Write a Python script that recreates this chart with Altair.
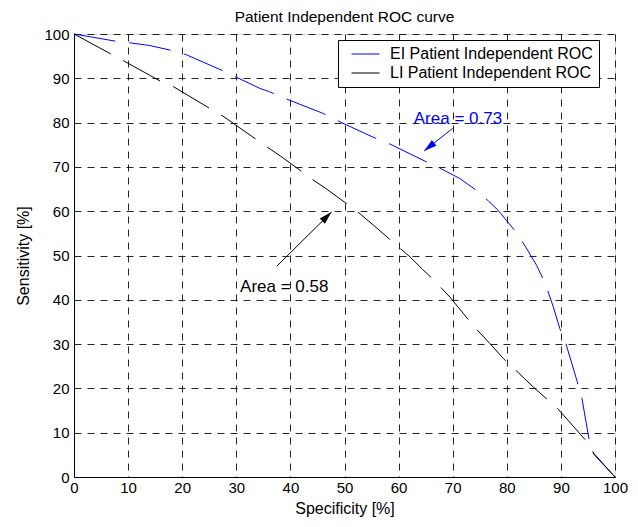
import math
import altair as alt
import pandas as pd

FONT = "Liberation Sans"

# ---- data ----
ticks = list(range(0, 101, 10))

series = ["EI Patient Independent ROC", "LI Patient Independent ROC"]
colors = ["#0000ff", "#000000"]

ei_spec = [0, 7.6, 10.4, 14.0, 18.4, 20.8, 27.9, 29.4, 34.4, 36.1, 38.7, 46.0, 48.4,
           55.3, 58.0, 65.2, 67.8, 71.3, 74.5, 76.6, 78.4, 81.9, 83.5, 85.5, 87.1,
           88.6, 89.8, 90.9, 93.0, 93.9, 95.2, 96.1, 100]
ei_sens = [100, 98.4, 98.0, 97.4, 96.2, 95.3, 91.5, 90.6, 87.7, 87.0, 85.6, 82.1, 80.6,
           76.7, 75.4, 71.1, 69.6, 67.4, 64.6, 62.3, 60.2, 55.0, 51.9, 47.8, 43.7,
           38.4, 33.5, 30.2, 21.6, 17.7, 8.5, 5.1, 0]

li_spec = [0, 6.8, 9.1, 15.9, 18.4, 25.1, 27.5, 35.8, 38.1, 44.4, 46.7, 52.5, 55.3,
           60.3, 62.1, 64.4, 66.4, 69.5, 71.9, 73.9, 76.9, 79.4, 81.5, 84.9, 87.5,
           89.5, 94.8, 96.1, 100]
li_sens = [100, 95.5, 94.0, 89.4, 88.1, 83.2, 81.5, 74.4, 72.5, 66.9, 65.0, 59.8, 56.9,
           51.6, 49.7, 46.9, 44.6, 40.6, 37.0, 34.0, 30.1, 26.7, 24.3, 20.3, 17.5,
           15.3, 8.0, 5.3, 0]

ann_text = ["Area = 0.73", "Area = 0.58"]
ann_x = [62.8, 30.7]
ann_y = [80.7, 42.9]
arrow_x0 = [70.0, 37.5]
arrow_y0 = [78.7, 47.6]
arrow_x1 = [64.7, 47.6]
arrow_y1 = [73.6, 59.8]

W, H = 541, 443

rows = []
for name, xs, ys in [(series[0], ei_spec, ei_sens), (series[1], li_spec, li_sens)]:
    for i, (a, b) in enumerate(zip(xs, ys)):
        rows.append({"spec": a, "sens": b, "series": name, "order": i})
curves = pd.DataFrame(rows)

xscale = alt.Scale(domain=[0, 100], nice=False, zero=False)
yscale = alt.Scale(domain=[0, 100], nice=False, zero=False)

axis_common = dict(
    values=ticks, grid=True, gridDash=[7, 6], gridColor="#000000", gridOpacity=0.85,
    ticks=False, domainColor="#000000", labelFont=FONT, labelFontSize=15,
    labelColor="#000000", titleFont=FONT, titleFontSize=16, titleFontWeight="normal",
    titleColor="#000000", labelFlush=False, labelOverlap=False,
)

lines = alt.Chart(curves).mark_line(strokeWidth=1, strokeDash=[42, 14]).encode(
    x=alt.X("spec:Q", scale=xscale,
            axis=alt.Axis(title="Specificity [%]", labelPadding=3, titlePadding=5, **axis_common)),
    y=alt.Y("sens:Q", scale=yscale,
            axis=alt.Axis(title="Sensitivity [%]", labelPadding=5, titlePadding=12, **axis_common)),
    color=alt.Color("series:N", scale=alt.Scale(domain=series, range=colors),
                    legend=alt.Legend(title=None, orient="none", legendX=264, legendY=6,
                                      symbolType="stroke", symbolSize=784, symbolStrokeWidth=1,
                                      symbolDash=[1000, 0], symbolOffset=7, clipHeight=16,
                                      labelFont=FONT, labelFontSize=16, labelColor="#000000",
                                      labelOffset=10, labelLimit=400, rowPadding=3,
                                      padding=6, strokeColor="#000000", fillColor="#ffffff",
                                      cornerRadius=0,
                                      labelExpr="datum.label + '\u00a0\u00a0\u00a0\u00a0\u00a0\u00a0'")),
    order="order:Q",
)

layers = [lines]
for i in range(2):
    c = colors[i]
    adf = pd.DataFrame({"x": [ann_x[i]], "y": [ann_y[i]], "t": [ann_text[i]]})
    layers.append(alt.Chart(adf).mark_text(align="left", baseline="middle", font=FONT,
                                           fontSize=17, color=c).encode(
        x=alt.X("x:Q", scale=xscale), y=alt.Y("y:Q", scale=yscale), text="t:N"))
    rdf = pd.DataFrame({"x": [arrow_x0[i]], "y": [arrow_y0[i]],
                        "x2": [arrow_x1[i]], "y2": [arrow_y1[i]]})
    layers.append(alt.Chart(rdf).mark_rule(color=c, strokeWidth=1).encode(
        x=alt.X("x:Q", scale=xscale), y=alt.Y("y:Q", scale=yscale), x2="x2:Q", y2="y2:Q"))
    dx = (arrow_x1[i] - arrow_x0[i]) * W / 100
    dy = -(arrow_y1[i] - arrow_y0[i]) * H / 100
    ang = math.degrees(math.atan2(dx, -dy)) % 360
    hdf = pd.DataFrame({"x": [arrow_x1[i]], "y": [arrow_y1[i]]})
    layers.append(alt.Chart(hdf).mark_point(shape="M0,0L0.45,1.6L-0.45,1.6Z", filled=True,
                                            size=260, angle=ang, color=c, opacity=1,
                                            strokeWidth=0).encode(
        x=alt.X("x:Q", scale=xscale), y=alt.Y("y:Q", scale=yscale)))

chart = alt.layer(*layers).properties(
    width=W, height=H,
    title=alt.Title("Patient Independent ROC curve", font=FONT, fontSize=15.5,
                    fontWeight="normal", color="#000000", anchor="middle",
                    baseline="alphabetic", offset=6, dy=16),
    autosize=alt.AutoSizeParams(type="none"),
    padding={"left": 66, "top": 26, "right": 15, "bottom": 42},
).configure_view(stroke="#000000", strokeWidth=1).configure(background="#ffffff")

chart.save("out.html", embed_options={"renderer": "svg", "actions": False})
